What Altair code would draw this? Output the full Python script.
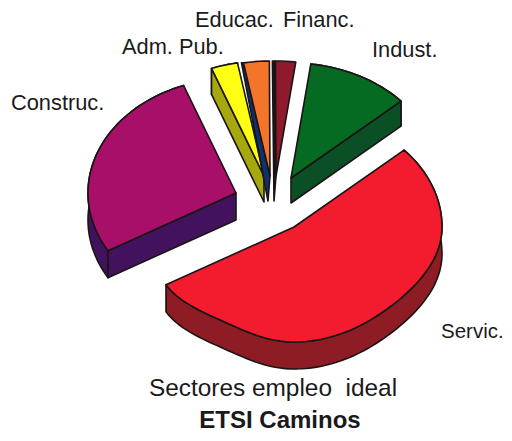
import math
import altair as alt
import pandas as pd

# Data (percent of the pie)
categories = ["Servic.", "Construc.", "Adm. Pub.", "Educac.", "Financ.", "Indust."]
values = [53.3, 27.6, 2.9, 2.8, 2.2, 11.2]

# Styles
top_colors = ["#F21C2E", "#A80F68", "#FFFF14", "#F4752A", "#8E1A2C", "#066B22"]
side_colors = ["#8E1C24", "#43125E", "#A6A80E", "#10306E", "#1E1414", "#0A4F26"]
edge = "#1a1414"

# Layout (pixels in the page)
START = 48.0
RX, RY = 148, 115
apex = {"Servic.": (294, 227), "Construc.": (236, 193), "Adm. Pub.": (264, 176),
        "Educac.": (270, 176), "Financ.": (276, 176), "Indust.": (291, 178)}
depth = {"Servic.": 27, "Construc.": 27, "Adm. Pub.": 26, "Educac.": 25, "Financ.": 25, "Indust.": 25}
thin = {"Educac.": (-2, -2), "Financ.": (-3, -2)}  # only a sliver of the cut face shows
front_face = {"Servic.": None, "Construc.": 0, "Adm. Pub.": 0, "Indust.": -1}
flatten = {"Servic.": 0.05}
labels = [("Educac.", 195, 27, 21.8), ("Financ.", 283, 27, 21.8), ("Adm. Pub.", 122, 54, 21.8),
          ("Construc.", 11, 110, 21.8), ("Indust.", 372, 57, 21.8), ("Servic.", 441, 338, 20.5)]
titles = [("Sectores empleo\u00a0 ideal", 273, 396, "normal", 24.4), ("ETSI Caminos", 280, 428, "bold", 24)]

X = alt.X("x:Q", scale=alt.Scale(domain=[8, 504], range=[0, 496]), axis=None)
Y = alt.Y("y:Q", scale=alt.Scale(domain=[8, 433], range=[0, 425]), axis=None)


def polygon(points, fill):
    df = pd.DataFrame({"x": [p[0] for p in points], "y": [p[1] for p in points], "i": range(len(points))})
    return alt.Chart(df).mark_line(
        interpolate="linear-closed", fill=fill, stroke=edge, strokeWidth=1.6, strokeJoin="round"
    ).encode(x=X, y=Y, order=alt.Order("i:Q"))


def squeeze(deg):
    """The lower rim of the tilted pie sits a little inside a true ellipse."""
    if 90 < deg <= 180:
        return math.sin(math.radians(2 * deg)) ** 2
    if 180 < deg < 240:
        return math.sin(math.radians(3 * (deg - 180))) ** 2
    return 0.0


layers = []
a0 = START
total = sum(values)
for name, v, top, side in zip(categories, values, top_colors, side_colors):
    a1 = a0 + 360 * v / total
    cx, cy = apex[name]
    d = depth[name]
    n = max(4, int((a1 - a0) / 2))
    arc = []
    for k in range(n + 1):
        deg = a0 + (a1 - a0) * k / n
        a = math.radians(deg)
        f = 1 - flatten.get(name, 0) * squeeze(deg)
        arc.append((cx + RX * f * math.sin(a), cy - RY * f * math.cos(a)))
    low = lambda p, dd=d: (p[0], p[1] + dd)
    if name in thin:
        sx, bx = thin[name]
        tip = arc[0]
        layers.append(polygon([tip, (cx, cy), (cx + bx, cy + d), (tip[0] + sx, tip[1])], side))
    else:
        layers.append(polygon(arc + [low(p) for p in reversed(arc)], side))
        if front_face[name] is not None:
            p = arc[front_face[name]]
            layers.append(polygon([p, (cx, cy), low((cx, cy)), low(p)], side))
    layers.append(polygon([(cx, cy)] + arc, top))
    a0 = a1

for t, x, y, s in labels:
    df = pd.DataFrame({"t": [t], "x": [x], "y": [y]})
    layers.append(alt.Chart(df).mark_text(align="left", baseline="alphabetic", font="Liberation Sans",
                                          fontSize=s, color="#1a1a1a").encode(x=X, y=Y, text="t:N"))
for t, x, y, w, s in titles:
    df = pd.DataFrame({"t": [t], "x": [x], "y": [y]})
    layers.append(alt.Chart(df).mark_text(align="center", baseline="alphabetic", font="Liberation Sans",
                                          fontSize=s, fontWeight=w, color="#1a1a1a").encode(x=X, y=Y, text="t:N"))

chart = alt.layer(*layers).properties(
    width=496, height=425, padding=0, autosize=alt.AutoSizeParams(type="none"), background="white"
).configure_view(stroke=None)

chart.save("out.html", embed_options={"renderer": "svg", "actions": False})
